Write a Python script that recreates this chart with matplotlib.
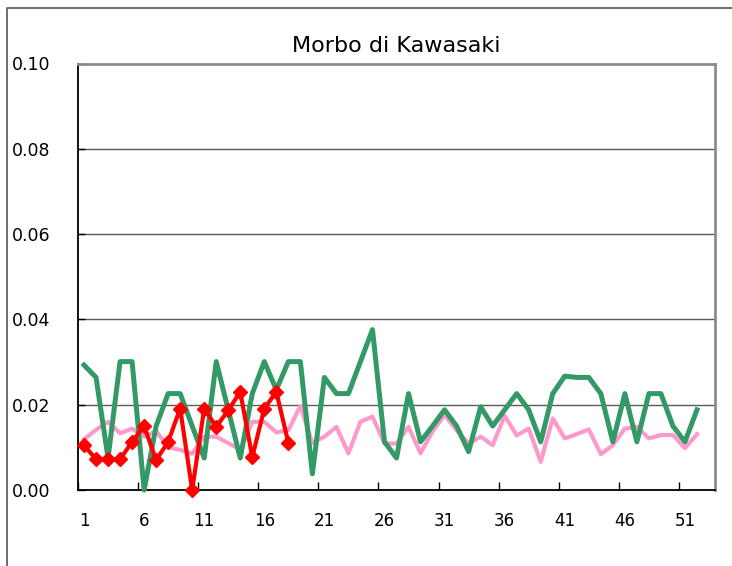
import matplotlib
matplotlib.use("Agg")
import matplotlib.pyplot as plt
from matplotlib.lines import Line2D

# -----------------------------------------------------
# DATA (weekly incidence)
# -----------------------------------------------------

weeks = list(range(1, 53))

green_values = [
    0.0293, 0.0264, 0.0075, 0.0301, 0.0301, 0.0000, 0.0150, 0.0226, 0.0226, 0.0150,
    0.0075, 0.0301, 0.0188, 0.0075, 0.0226, 0.0301, 0.0235, 0.0301, 0.0301, 0.0038,
    0.0264, 0.0226, 0.0226, 0.0301, 0.0376, 0.0113, 0.0075, 0.0226, 0.0113, 0.0150,
    0.0188, 0.0150, 0.0090, 0.0195, 0.0150, 0.0188, 0.0226, 0.0188, 0.0113, 0.0226,
    0.0267, 0.0264, 0.0264, 0.0226, 0.0113, 0.0226, 0.0113, 0.0226, 0.0226, 0.0150,
    0.0113, 0.0188,
]

pink_values = [
    0.0119, 0.0141, 0.0160, 0.0133, 0.0144, 0.0125, 0.0138, 0.0101, 0.0094, 0.0085,
    0.0125, 0.0125, 0.0110, 0.0095, 0.0160, 0.0160, 0.0135, 0.0140, 0.0197, 0.0110,
    0.0125, 0.0148, 0.0086, 0.0160, 0.0172, 0.0109, 0.0109, 0.0148, 0.0086, 0.0137,
    0.0176, 0.0140, 0.0109, 0.0125, 0.0105, 0.0174, 0.0128, 0.0144, 0.0066, 0.0168,
    0.0121, 0.0131, 0.0142, 0.0084, 0.0105, 0.0144, 0.0148, 0.0121, 0.0129, 0.0129,
    0.0098, 0.0131,
]

red_values = [
    0.0105, 0.0072, 0.0072, 0.0072, 0.0113, 0.0150, 0.0070, 0.0113, 0.0191, 0.0000,
    0.0191, 0.0148, 0.0187, 0.0230, 0.0077, 0.0191, 0.0230, 0.0111,
]

x_labels = [1, 6, 11, 16, 21, 26, 31, 36, 41, 46, 51]
y_ticks = [0.00, 0.02, 0.04, 0.06, 0.08, 0.10]

# -----------------------------------------------------
# FIGURE
# -----------------------------------------------------

W, H = 732, 566
fig = plt.figure(figsize=(W / 100, H / 100), dpi=100)
ax = fig.add_axes([78 / W, 1 - 490 / H, (715 - 78) / W, (490 - 63.5) / H])

ax.plot(weeks, pink_values, color="#ff99cc", lw=3.0, clip_on=False, zorder=3)
ax.plot(weeks, green_values, color="#339966", lw=3.6, clip_on=False, zorder=4)
ax.plot(weeks[:len(red_values)], red_values, color="#ff0000", lw=3.0,
        marker="D", markersize=7, clip_on=False, zorder=5)

ax.set_xlim(0.5, 53.5)
ax.set_ylim(0, 0.10)

# y axis
ax.set_yticks(y_ticks)
ax.set_yticklabels([f"{v:.2f}" for v in y_ticks], fontsize=12.5)
ax.tick_params(axis="y", direction="in", length=5, width=1, pad=20)
for v in y_ticks[1:-1]:
    ax.axhline(v, color="#5a5a5a", lw=1, zorder=1)

# x axis: tick marks between categories, labels on categories
ax.set_xticks([0.5 + 5 * k for k in range(11)])
ax.set_xticklabels([])
ax.set_xticks(x_labels, minor=True)
ax.set_xticklabels([str(v) for v in x_labels], minor=True, fontsize=12)
ax.tick_params(axis="x", which="major", direction="in", length=6, width=1)
ax.tick_params(axis="x", which="minor", length=0, pad=16)

ax.spines["left"].set_color("black")
ax.spines["left"].set_linewidth(1.3)
ax.spines["bottom"].set_color("black")
ax.spines["bottom"].set_linewidth(1.3)
ax.spines["top"].set_color("#8c8c8c")
ax.spines["top"].set_linewidth(2.0)
ax.spines["right"].set_color("#8c8c8c")
ax.spines["right"].set_linewidth(2.0)

ax.set_title("Morbo di Kawasaki", fontsize=16, pad=8)

# outer chart frame (cropped on right and bottom)
fig.add_artist(Line2D([7 / W, 7 / W, 1.0], [0.0, 1 - 8 / H, 1 - 8 / H],
                      color="#555555", lw=1.2))

fig.savefig("out.png", dpi=100)
